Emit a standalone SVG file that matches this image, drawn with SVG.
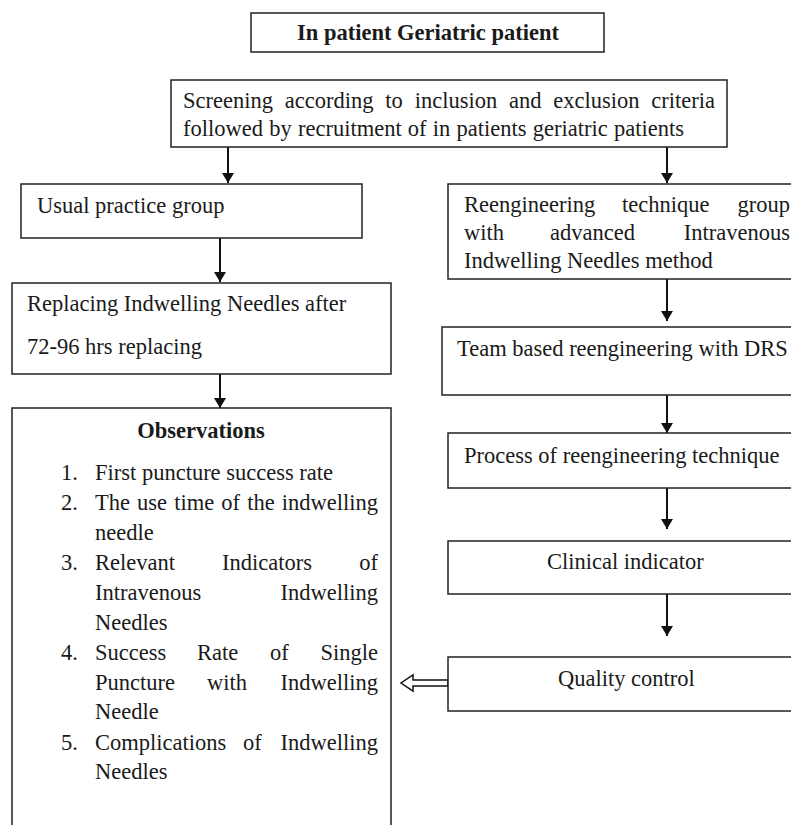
<svg xmlns="http://www.w3.org/2000/svg" width="791" height="825" viewBox="0 0 791 825">
<style>
  .box { fill: #fff; stroke: #222; stroke-width: 1.5; }
  .t { font-family: "Liberation Serif", "Times New Roman", serif; font-size: 22.5px; fill: #1a1a1a; }
  .b { font-weight: bold; }
  .conn { stroke: #111; stroke-width: 2; fill: none; }
  .hollow { fill: #fff; stroke: #111; stroke-width: 1.5; }
</style>
<defs>
  <marker id="ah" viewBox="0 0 10 12" refX="10" refY="6" markerWidth="10" markerHeight="12" markerUnits="userSpaceOnUse" orient="auto">
    <path d="M0,0 L10,6 L0,12 Z" fill="#111"/>
  </marker>
</defs>
<rect width="791" height="825" fill="#fff"/>

<g id="connectors">
  <line class="conn" x1="228" y1="147" x2="228" y2="183" marker-end="url(#ah)"/>
  <line class="conn" x1="667" y1="147" x2="667" y2="183" marker-end="url(#ah)"/>
  <line class="conn" x1="220" y1="238" x2="220" y2="282" marker-end="url(#ah)"/>
  <line class="conn" x1="220" y1="374" x2="220" y2="408" marker-end="url(#ah)"/>
  <line class="conn" x1="667" y1="279" x2="667" y2="321" marker-end="url(#ah)"/>
  <line class="conn" x1="667" y1="395" x2="667" y2="433" marker-end="url(#ah)"/>
  <line class="conn" x1="667" y1="488" x2="667" y2="529" marker-end="url(#ah)"/>
  <line class="conn" x1="667" y1="594" x2="667" y2="636" marker-end="url(#ah)"/>
  <polygon class="hollow" points="448,680 413,680 413,675 401,683 413,691 413,686 448,686"/>
</g>

<g id="title">
  <rect class="box" x="251" y="13" width="353" height="39"/>
  <text class="t b" x="428" y="40" text-anchor="middle">In patient Geriatric patient</text>
</g>

<g id="screening">
  <rect class="box" x="171" y="80" width="556" height="67"/>
  <text class="t" x="183" y="108" word-spacing="6.2">Screening according to inclusion and exclusion criteria</text>
  <text class="t" x="183" y="136" word-spacing="0.6">followed by recruitment of in patients geriatric patients</text>
</g>

<g id="usual">
  <rect class="box" x="21" y="184" width="341" height="54"/>
  <text class="t" x="37" y="213">Usual practice group</text>
</g>

<g id="replacing">
  <rect class="box" x="12" y="283" width="379" height="91"/>
  <text class="t" x="27" y="311">Replacing Indwelling Needles after</text>
  <text class="t" x="27" y="354">72-96 hrs replacing</text>
</g>

<g id="observations">
  <rect class="box" x="12" y="408" width="379" height="430"/>
  <text class="t b" x="201" y="438" text-anchor="middle">Observations</text>
  <text class="t" x="61" y="480">1.</text>
  <text class="t" x="95" y="480">First puncture success rate</text>
  <text class="t" x="61" y="510">2.</text>
  <text class="t" x="95" y="510" word-spacing="1.5">The use time of the indwelling</text>
  <text class="t" x="95" y="540">needle</text>
  <text class="t" x="61" y="570">3.</text>
  <text class="t" x="95" y="570">Relevant</text>
  <text class="t" x="222" y="570">Indicators</text>
  <text class="t" x="378" y="570" text-anchor="end">of</text>
  <text class="t" x="95" y="600">Intravenous</text>
  <text class="t" x="378" y="600" text-anchor="end">Indwelling</text>
  <text class="t" x="95" y="630">Needles</text>
  <text class="t" x="61" y="660">4.</text>
  <text class="t" x="95" y="660">Success</text>
  <text class="t" x="197" y="660">Rate</text>
  <text class="t" x="270" y="660">of</text>
  <text class="t" x="378" y="660" text-anchor="end">Single</text>
  <text class="t" x="95" y="690">Puncture</text>
  <text class="t" x="207" y="690">with</text>
  <text class="t" x="378" y="690" text-anchor="end">Indwelling</text>
  <text class="t" x="95" y="719">Needle</text>
  <text class="t" x="61" y="750">5.</text>
  <text class="t" x="95" y="750">Complications</text>
  <text class="t" x="243" y="750">of</text>
  <text class="t" x="378" y="750" text-anchor="end">Indwelling</text>
  <text class="t" x="95" y="779">Needles</text>
</g>

<g id="reengineering">
  <rect class="box" x="448" y="184" width="360" height="95"/>
  <text class="t" x="464" y="212">Reengineering</text>
  <text class="t" x="622" y="212">technique</text>
  <text class="t" x="790" y="212" text-anchor="end">group</text>
  <text class="t" x="464" y="240">with</text>
  <text class="t" x="550" y="240">advanced</text>
  <text class="t" x="790" y="240" text-anchor="end">Intravenous</text>
  <text class="t" x="464" y="268">Indwelling Needles method</text>
</g>

<g id="team">
  <rect class="box" x="442" y="327" width="366" height="68"/>
  <text class="t" x="457" y="356">Team based reengineering with DRS</text>
</g>

<g id="process">
  <rect class="box" x="448" y="433" width="360" height="55"/>
  <text class="t" x="464" y="463">Process of reengineering technique</text>
</g>

<g id="clinical">
  <rect class="box" x="448" y="541" width="360" height="53"/>
  <text class="t" x="547" y="569">Clinical indicator</text>
</g>

<g id="quality">
  <rect class="box" x="448" y="657" width="360" height="54"/>
  <text class="t" x="558" y="686">Quality control</text>
</g>
</svg>
